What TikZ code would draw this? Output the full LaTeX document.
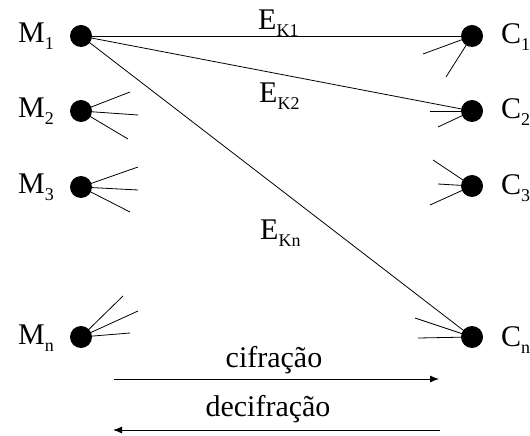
\documentclass[tikz,border=0pt]{standalone}
\usepackage{fontspec}
\setmainfont{Liberation Serif}
\usetikzlibrary{arrows.meta}
\newcommand{\sbig}{\fontsize{30bp}{34bp}\selectfont}
\newcommand{\ssub}[1]{\raisebox{-7bp}{\fontsize{18bp}{20bp}\selectfont #1}}
\begin{document}
\begin{tikzpicture}[x=1bp,y=-1bp,
  dot/.style={circle,fill=black,inner sep=0pt,minimum size=22bp},
  lbl/.style={inner sep=0pt,anchor=base west,font=\sbig},
  mid/.style={inner sep=0pt,anchor=base,font=\sbig},
  wire/.style={line width=0.8pt},
  flow/.style={line width=0.9pt,-{Latex[length=9bp,width=7bp]}}]
\useasboundingbox (0,0) rectangle (530,436);
% dots
\node[dot] (M1) at (81,36) {};
\node[dot] (M2) at (81,111) {};
\node[dot] (M3) at (81,187) {};
\node[dot] (Mn) at (81,337) {};
\node[dot] (C1) at (472,36) {};
\node[dot] (C2) at (472,111) {};
\node[dot] (C3) at (472,186) {};
\node[dot] (Cn) at (472,337) {};
% labels
\node[lbl] (lM1) at (18,43) {M\ssub{1}};
\node[lbl] (lM2) at (18,118) {M\ssub{2}};
\node[lbl] (lM3) at (18,194) {M\ssub{3}};
\node[lbl] (lMn) at (18,344) {M\ssub{n}};
\node[lbl] (lC1) at (501,44) {C\ssub{1}};
\node[lbl] (lC2) at (501,119) {C\ssub{2}};
\node[lbl] (lC3) at (501,195) {C\ssub{3}};
\node[lbl] (lCn) at (501,346) {C\ssub{n}};
% main connectors
\draw[wire] (M1.center) -- (C1.center);
\draw[wire] (M1.center) -- (C2.center);
\draw[wire] (M1.center) -- (Cn.center);
\node[lbl] (e1) at (258,30) {E\ssub{K1}};
\node[lbl] (e2) at (259,103) {E\ssub{K2}};
\node[lbl] (en) at (260,240) {E\ssub{Kn}};
% stubs M
\draw[wire] (M2.center) -- +(49,-19);
\draw[wire] (M2.center) -- +(57,4);
\draw[wire] (M2.center) -- +(47,28);
\draw[wire] (M3.center) -- +(57,-20);
\draw[wire] (M3.center) -- +(57,3);
\draw[wire] (M3.center) -- +(49,25);
\draw[wire] (Mn.center) -- +(42,-41);
\draw[wire] (Mn.center) -- +(57,-26);
\draw[wire] (Mn.center) -- +(49,-4);
% stubs C
\draw[wire] (C1.center) -- +(-49,18);
\draw[wire] (C1.center) -- +(-26,41);
\draw[wire] (C2.center) -- +(-42,0);
\draw[wire] (C2.center) -- +(-34,16);
\draw[wire] (C3.center) -- +(-39,-26);
\draw[wire] (C3.center) -- +(-34,-2);
\draw[wire] (C3.center) -- +(-42,19);
\draw[wire] (Cn.center) -- +(-57,-19);
\draw[wire] (Cn.center) -- +(-54,1);
% flow arrows
\coordinate (a1) at (114,379);
\coordinate (a2) at (439,379);
\coordinate (b1) at (440,430);
\coordinate (b2) at (113,430);
\draw[flow] (a1) -- (a2);
\draw[flow] (b1) -- (b2);
\node[mid] (cif) at (274,367) {cifração};
\node[mid] (dec) at (268,416) {decifração};
\end{tikzpicture}
\end{document}
